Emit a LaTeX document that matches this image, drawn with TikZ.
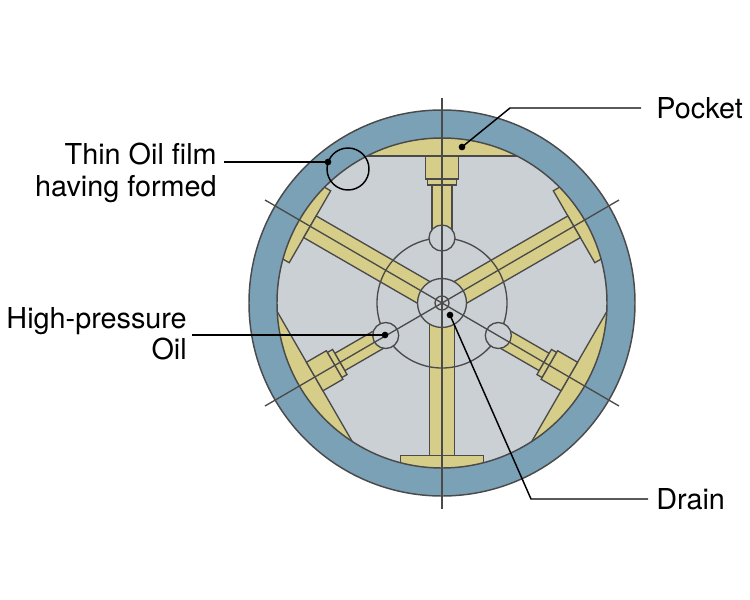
\documentclass[tikz,border=0pt]{standalone}
\usepackage{fontspec}
\setmainfont{TeX Gyre Heros}
\definecolor{ring}{HTML}{7BA1B6}
\definecolor{bore}{HTML}{CBD0D4}
\definecolor{pad}{HTML}{D6CD88}
\definecolor{edge}{HTML}{4A4A4A}
\tikzset{
  part/.style={draw=edge,line width=1pt,fill=pad,line join=miter},
  axis/.style={draw=edge,line width=1pt},
  ringline/.style={draw=edge,line width=1.1pt},
  leader/.style={draw=black,line width=1.1pt},
  dot/.style={circle,fill=black,inner sep=0pt,minimum size=5pt},
  lbl/.style={inner sep=0pt,font=\fontsize{21.6pt}{25pt}\selectfont}
}
\newcommand{\bigpad}[1]{%
  \begin{scope}[shift={(442,303)},rotate=#1]
    \begin{scope}
      \clip (0,0) circle[radius=165*0.75pt];
      \path[part] (-90,-147) rectangle (90,-175);
    \end{scope}
    \path[part] (-10,-60) rectangle (10,-118);
    \path[part] (-14.5,-118) rectangle (14.5,-124);
    \path[part] (-16.5,-124) rectangle (16.5,-147);
  \end{scope}}
\newcommand{\thinpad}[1]{%
  \begin{scope}[shift={(442,303)},rotate=#1]
    \begin{scope}
      \clip (0,0) circle[radius=165*0.75pt];
      \path[part] (-41.5,-152.5) rectangle (41.5,-175);
    \end{scope}
    \path[part] (-12.5,-20) rectangle (12.5,-152.5);
  \end{scope}}
\begin{document}
\begin{tikzpicture}[x=0.75pt,y=-0.75pt]
\useasboundingbox (0,0) rectangle (750,600);
\coordinate (c) at (442,303);
% ring and bore
\path[fill=ring] (c) circle[radius=193*0.75pt];
\path[fill=bore] (c) circle[radius=165*0.75pt];
% pads and stems
\bigpad{0}\bigpad{120}\bigpad{-120}
\thinpad{60}\thinpad{-60}\thinpad{180}
\path[ringline] (c) circle[radius=193*0.75pt];
\path[ringline] (c) circle[radius=165*0.75pt];
% hub
\path[axis] (c) circle[radius=65*0.75pt];
\path[axis,fill=bore] (c) circle[radius=24.5*0.75pt];
\coordinate (pa) at (442,238);
\coordinate (pb) at (385.7,335.5);
\coordinate (pc) at (498.3,335.5);
\path[axis,fill=bore] (pa) circle[radius=13*0.75pt];
\path[axis,fill=bore] (pb) circle[radius=13*0.75pt];
\path[axis,fill=bore] (pc) circle[radius=13*0.75pt];
\path[axis] (c) circle[radius=7*0.75pt];
% axes
\coordinate (vt) at (442,98);
\coordinate (vb) at (442,509);
\coordinate (la) at (265,200);
\coordinate (lb) at (619,406);
\coordinate (ra) at (619,200);
\coordinate (rb) at (265,406);
\draw[axis] (vt) -- (vb);
\draw[axis] (la) -- (lb);
\draw[axis] (ra) -- (rb);
% film circle
\coordinate (fc) at (348,169);
\path[draw=black,line width=1.1pt] (fc) circle[radius=21*0.75pt];
% labels
\node[lbl,anchor=base west] (pocket) at (656,118) {Pocket};
\node[lbl,anchor=base east] (film1) at (217,164) {Thin Oil film};
\node[lbl,anchor=base east] (film2) at (217,196) {having formed};
\node[lbl,anchor=base east] (hp1) at (187,328) {High-pressure};
\node[lbl,anchor=base east] (hp2) at (187,359) {Oil};
\node[lbl,anchor=base west] (drain) at (656,509) {Drain};
% leaders
\node[dot] (dpocket) at (462,147) {};
\node[dot] (dfilm) at (328,162) {};
\node[dot] (dhp) at (385,335) {};
\node[dot] (ddrain) at (450,315) {};
\coordinate (kpocket) at (510,108);
\coordinate (epocket) at (641,108);
\coordinate (efilm) at (224,162);
\coordinate (ehp) at (192,335);
\coordinate (kdrain) at (531,499);
\coordinate (edrain) at (648,499);
\draw[leader] (dpocket.center) -- (kpocket) -- (epocket);
\draw[leader] (efilm) -- (dfilm.center);
\draw[leader] (ehp) -- (dhp.center);
\draw[leader] (ddrain.center) -- (kdrain) -- (edrain);
\end{tikzpicture}
\end{document}
